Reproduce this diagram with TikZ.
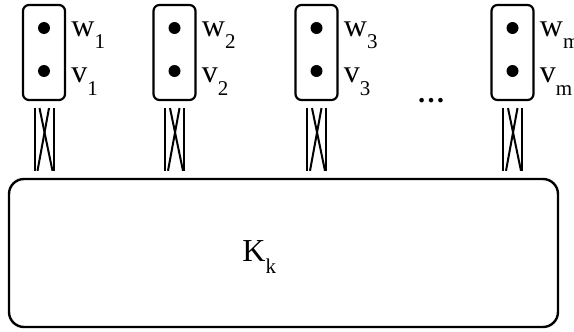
\documentclass[tikz,border=0pt]{standalone}
\usepackage{fontspec}
\setmainfont{Liberation Serif}
\usetikzlibrary{calc}
\newcommand{\lowsub}[1]{\raisebox{-6pt}{\fontsize{10.5}{11}\selectfont #1}}

\begin{document}
\begin{tikzpicture}[x=0.5pt,y=-0.5pt,
  gadget/.style={draw,line width=1.1pt,rounded corners=3pt,minimum width=21pt,minimum height=47.5pt,inner sep=0pt},
  vert/.style={circle,fill,inner sep=0pt,minimum size=6pt},
  lab/.style={anchor=base west,inner sep=0pt,font=\fontsize{16}{18}\selectfont},
  leg/.style={line width=1pt}]
\useasboundingbox (0,0) rectangle (574,332);
\node[draw,line width=1.2pt,rounded corners=7.5pt,minimum width=274.5pt,minimum height=74pt,inner sep=0pt] (clique) at (283.5,253) {};
\node[lab] (cliquelab) at (242,261) {K\lowsub{k}};
\node[font=\fontsize{14}{16}\bfseries] (dots) at (431,101) {\ldots};
\foreach \i/\x/\n in {1/44/1,2/174.5/2,3/316.5/3,4/512.5/m} {
  \node[gadget] (g\i) at (\x,52.5) {};
  \node[vert] (w\i) at (\x,28) {};
  \node[vert] (v\i) at (\x,71) {};
  \node[lab] (wlab\i) at (\x+27,36) {w\lowsub{\n}};
  \node[lab] (vlab\i) at (\x+27,83) {v\lowsub{\n}};
  \coordinate (t\i) at ($(g\i.south)+(0,7)$);
  \coordinate (b\i) at ($(g\i.south |- clique.north)+(0,-7)$);
  \draw[leg] ($(t\i)+(-9.5,0)$) -- ($(b\i)+(-9.5,0)$);
  \draw[leg] ($(t\i)+(9.5,0)$) -- ($(b\i)+(9.5,0)$);
  \draw[leg] ($(t\i)+(-4.5,0)$) -- ($(b\i)+(8.5,0)$);
  \draw[leg] ($(t\i)+(5,0)$) -- ($(b\i)+(-6.5,0)$);
}
\end{tikzpicture}
\end{document}
